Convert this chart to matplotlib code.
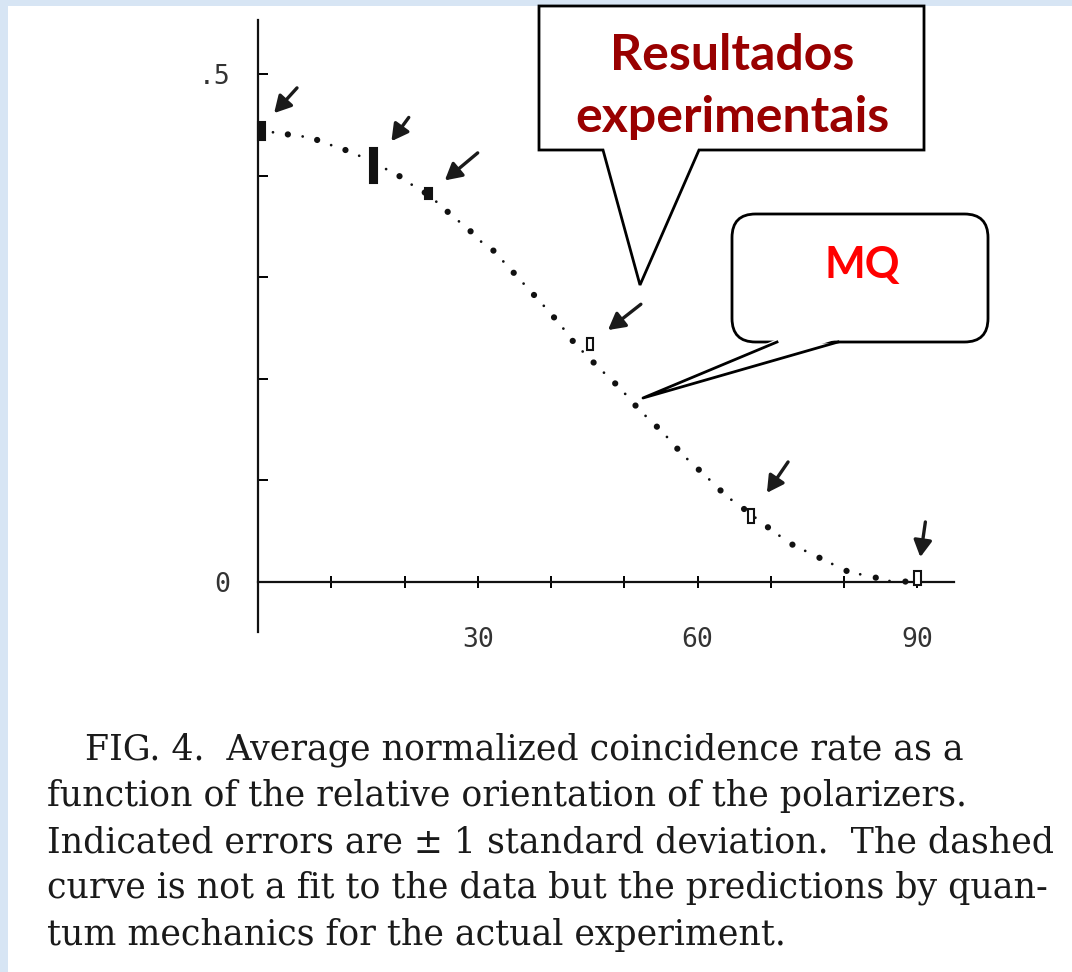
import matplotlib
matplotlib.use("Agg")
import matplotlib.pyplot as plt
from matplotlib.patches import Polygon, FancyBboxPatch, Rectangle
from matplotlib.lines import Line2D

W, H = 1072, 972

# experimental points (angle in degrees, normalized rate, +-1 sd)
exp_angle = [0, 15.8, 23.3, 45.3, 67.3, 90]
exp_value = [0.444, 0.410, 0.382, 0.234, 0.065, 0.004]
exp_err = [0.0085, 0.017, 0.0055, 0.006, 0.0065, 0.0065]
exp_filled = [True, True, True, False, False, False]

# quantum mechanics prediction, dotted curve
qm_angle = [0, 3.0, 5.2, 7.1, 9.1, 11.3, 13.4, 19.0, 21.0, 23.3, 26.1, 28.9,
            30.6, 31.9, 38.5, 41.2, 43.2, 46.5, 49.4, 52.1, 55.3, 58.0, 61.3,
            64.0, 65.6, 69.2, 72.6, 76.3, 80.6, 83.9, 86.2, 90]
qm_value = [0.444, 0.442, 0.439, 0.438, 0.432, 0.427, 0.421, 0.401, 0.391,
            0.381, 0.363, 0.346, 0.334, 0.328, 0.276, 0.254, 0.235, 0.211,
            0.191, 0.169, 0.147, 0.125, 0.103, 0.084, 0.076, 0.056, 0.038,
            0.025, 0.010, 0.005, 0.001, 0.0]

x_ticks = [0, 10, 20, 30, 40, 50, 60, 70, 80, 90]
x_labels = ["", "", "", "30", "", "", "60", "", "", "90"]
y_ticks = [0, 0.1, 0.2, 0.3, 0.4, 0.5]
y_labels = ["0", "", "", "", "", ".5"]

caption = [
    "FIG. 4.  Average normalized coincidence rate as a",
    "function of the relative orientation of the polarizers.",
    "Indicated errors are \u00b1 1 standard deviation.  The dashed",
    "curve is not a fit to the data but the predictions by quan-",
    "tum mechanics for the actual experiment.",
]

# arrow tails (pixels from point, y up) and gap before the point
arrow_tail = [(39, 43), (35, 48), (49, 41), (51, 40), (37, 54), (8, 56)]
arrow_gap = [24, 30, 21, 23, 28, 21]


def fx(x):
    return x / W


def fy(y):
    return 1 - y / H


fig = plt.figure(figsize=(W / 100, H / 100), dpi=100)
fig.patch.set_facecolor("#d7e5f4")
fig.patches.append(Rectangle((fx(8), 0), 1 - fx(8), fy(6), transform=fig.transFigure,
                             facecolor="white", edgecolor="none", zorder=-5))

ax = fig.add_axes([fx(258), fy(632), fx(954) - fx(258), fy(20) - fy(632)])
ax.set_facecolor("none")
ax.set_zorder(1)
ax.set_xlim(0, 95)
ax.set_ylim((582 - 632) / 1016, (582 - 20) / 1016)

for s in ["top", "right"]:
    ax.spines[s].set_visible(False)
ax.spines["bottom"].set_position(("data", 0))
for s in ["left", "bottom"]:
    ax.spines[s].set_linewidth(1.6)
    ax.spines[s].set_color("#111111")

ax.set_xticks(x_ticks)
ax.set_xticklabels(x_labels)
ax.set_yticks(y_ticks)
ax.set_yticklabels(y_labels)
ax.tick_params(axis="x", direction="inout", length=9, width=1.4, pad=28,
               labelsize=19, labelcolor="#333333")
ax.tick_params(axis="y", direction="in", length=7, width=1.4, pad=20,
               labelsize=19, labelcolor="#333333")
for lab in ax.get_xticklabels() + ax.get_yticklabels():
    lab.set_family("DejaVu Sans Mono")
    lab.set_fontweight("light")

# QM curve: big dots and small dots alternating
ax.plot(qm_angle, qm_value, color="#111111", lw=4.5, dash_capstyle="round",
        linestyle=(0, (0.01, 4.8)))
ax.plot(qm_angle, qm_value, color="#111111", lw=2, dash_capstyle="round",
        linestyle=(5.4, (0.01, 10.8)))

# data boxes
for a, v, e, f in zip(exp_angle, exp_value, exp_err, exp_filled):
    ax.bar(a + 0.5 * (a == 0), 2 * e, bottom=v - e, width=0.9,
           color="#111111" if f else "white", edgecolor="#111111",
           linewidth=1.5, zorder=3, clip_on=False)

# hand drawn arrows
for a, v, t, g in zip(exp_angle, exp_value, arrow_tail, arrow_gap):
    ax.annotate("", xy=(a, v), xytext=t, textcoords="offset pixels",
                arrowprops=dict(arrowstyle="-|>,head_length=1.0,head_width=0.55",
                                color="#1a1a1a", lw=2.4, shrinkA=0, shrinkB=g * 0.72))

# callout: Resultados experimentais
box1 = [(539, 6), (924, 6), (924, 150), (699, 150), (640, 285), (603, 150), (539, 150)]
fig.patches.append(Polygon([(fx(x), fy(y)) for x, y in box1], closed=True,
                           transform=fig.transFigure, facecolor="white",
                           edgecolor="black", lw=2, zorder=5))
fig.text(fx(732), fy(55), "Resultados", color="#990000", fontsize=36,
         fontweight="bold", family="Lato", ha="center", va="center", zorder=6)
fig.text(fx(732), fy(117), "experimentais", color="#990000", fontsize=36,
         fontweight="bold", family="Lato", ha="center", va="center", zorder=6)

# callout: MQ (rounded)
fig.patches.append(FancyBboxPatch((fx(732), fy(342)), fx(988) - fx(732), fy(214) - fy(342),
                                  boxstyle="round,pad=0,rounding_size=0.022",
                                  transform=fig.transFigure, facecolor="white",
                                  edgecolor="black", lw=2, zorder=5,
                                  mutation_aspect=W / H))
tail = [(777, 339), (643, 398), (838, 339)]
fig.patches.append(Polygon([(fx(x), fy(y)) for x, y in tail], closed=True,
                           transform=fig.transFigure, facecolor="white",
                           edgecolor="none", zorder=6))
fig.lines.append(Line2D([fx(777), fx(643), fx(838)], [fy(342), fy(398), fy(342)],
                        transform=fig.transFigure, color="black", lw=2, zorder=7))
fig.text(fx(862), fy(265), "MQ", color="#ff0000", fontsize=31,
         fontweight="bold", family="Lato", ha="center", va="center", zorder=8)

# caption
cap_y = [750, 796, 842, 888, 935]
cap_x = [85, 47, 47, 47, 47]
for t, x, y in zip(caption, cap_x, cap_y):
    fig.text(fx(x), fy(y), t, fontsize=25, family="DejaVu Serif",
             color="#1a1a1a", ha="left", va="center")

fig.savefig("out.png", dpi=100)
